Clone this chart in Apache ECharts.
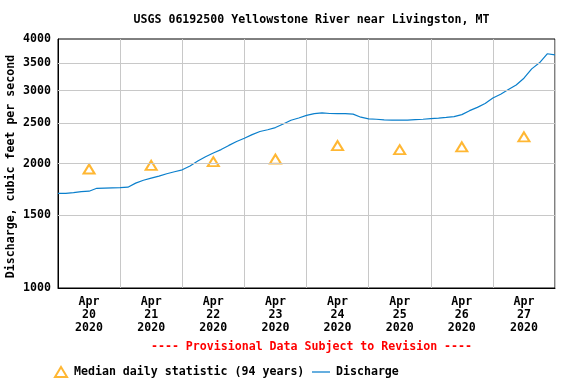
<!DOCTYPE html>
<html>
<head>
<meta charset="utf-8">
<script src="https://cdn.jsdelivr.net/npm/echarts@6/dist/echarts.min.js"></script>
<style>html,body{margin:0;padding:0;background:#fff}#c{width:576px;height:384px}</style>
</head>
<body>
<div id="c"></div>
<script>
const titleText = 'USGS 06192500 Yellowstone River near Livingston, MT';
const noteText = '---- Provisional Data Subject to Revision ----';
const yAxisName = 'Discharge, cubic feet per second';
const dayLabels = ['Apr\n20\n2020','Apr\n21\n2020','Apr\n22\n2020','Apr\n23\n2020','Apr\n24\n2020','Apr\n25\n2020','Apr\n26\n2020','Apr\n27\n2020'];
const medianValues = [1940, 1980, 2020, 2050, 2210, 2160, 2195, 2320];
const yTickValues = [1000, 1500, 2000, 2500, 3000, 3500, 4000];
const yGridValues = [1500, 2000, 2500, 3000, 3500];
// discharge readings every 3 hours, starting Apr 20 00:00
const stepHours = 3;
const discharge = [
  1693,1693,1701,1710,1714,1742,1744,1746,
  1748,1753,1793,1822,1844,1864,1889,1910,
  1931,1972,2028,2077,2121,2161,2212,2260,
  2301,2349,2390,2413,2443,2491,2545,2577,
  2614,2640,2650,2642,2640,2640,2632,2588,
  2564,2559,2551,2545,2545,2545,2552,2559,
  2567,2575,2585,2596,2625,2684,2734,2792,
  2879,2941,3018,3097,3215,3387,3503,3684,
  3660
];

const FONT = 'DejaVu Sans Mono';
const txt = {fontFamily: FONT, fontWeight: 'bold', fontSize: 11.6, color: '#000'};
const MEDIAN = 'Median daily statistic (94 years)';
const FLOW = 'Discharge';

const chart = echarts.init(document.getElementById('c'), null, {renderer: 'canvas'});
chart.setOption({
  animation: false,
  backgroundColor: '#fff',
  title: [
    {text: titleText, left: 306.5, top: 9, textAlign: 'center', textStyle: Object.assign({}, txt)},
    {text: noteText, left: 306.5, top: 336, textAlign: 'center', textStyle: Object.assign({}, txt, {color: '#ff0000'})}
  ],
  grid: {left: 58, right: 21, top: 39, bottom: 96, show: true, borderColor: '#000', borderWidth: 1,
         containLabel: false, outerBoundsMode: 'none'},
  legend: [
    {left: 49, top: 365, padding: [1, 5], itemGap: 0, itemWidth: 12, itemHeight: 10,
     textStyle: Object.assign({}, txt, {padding: [0, 0, 0, 2]}),
     data: [{name: MEDIAN, icon: 'emptyTriangle'}]},
    {left: 307, top: 365, padding: [1, 5], itemGap: 0, itemWidth: 18, itemHeight: 10,
     textStyle: Object.assign({}, txt, {padding: [0, 0, 0, 1]}),
     data: [{name: FLOW, icon: 'path://M0,0H20V1.4H0Z'}]}
  ],
  xAxis: [
    {type: 'value', min: 0, max: 192, interval: 24,
     axisLine: {show: true, lineStyle: {color: '#000', width: 1}},
     axisTick: {show: false}, axisLabel: {show: false},
     splitLine: {show: true, lineStyle: {color: '#c8c8c8', width: 1}}},
    {type: 'category', data: dayLabels, boundaryGap: true, position: 'bottom',
     axisLine: {show: false}, axisTick: {show: false}, splitLine: {show: false},
     axisLabel: Object.assign({}, txt, {margin: 7, lineHeight: 13, interval: 0})}
  ],
  yAxis: {
    type: 'log', logBase: 10, min: 1000, max: 4000,
    name: yAxisName, nameLocation: 'middle', nameRotate: 90, nameGap: 41, nameMoveOverlap: false,
    nameTextStyle: Object.assign({}, txt, {padding: [0, 6, 0, 0]}),
    axisLine: {show: true, lineStyle: {color: '#000', width: 1}},
    axisTick: {show: false},
    splitLine: {show: false},
    axisLabel: Object.assign({}, txt, {margin: 7, customValues: yTickValues, formatter: v => String(Math.round(v))})
  },
  series: [
    {
      name: MEDIAN, type: 'scatter', xAxisIndex: 1, z: 1,
      symbol: 'emptyTriangle', symbolSize: [11, 9],
      itemStyle: {color: '#ffa500', borderColor: '#ffa500', borderWidth: 1},
      data: medianValues,
      markLine: {silent: true, symbol: 'none', label: {show: false},
        lineStyle: {color: '#c8c8c8', width: 1, type: 'solid'},
        data: yGridValues.map(v => ({yAxis: v}))}
    },
    {
      name: FLOW, type: 'line', xAxisIndex: 0, z: 3,
      showSymbol: false, symbol: 'none',
      lineStyle: {color: '#0a7fcc', width: 1.2}, itemStyle: {color: '#0a7fcc'},
      data: discharge.map((v, i) => [i * stepHours, v])
    }
  ]
});
</script>
</body>
</html>
